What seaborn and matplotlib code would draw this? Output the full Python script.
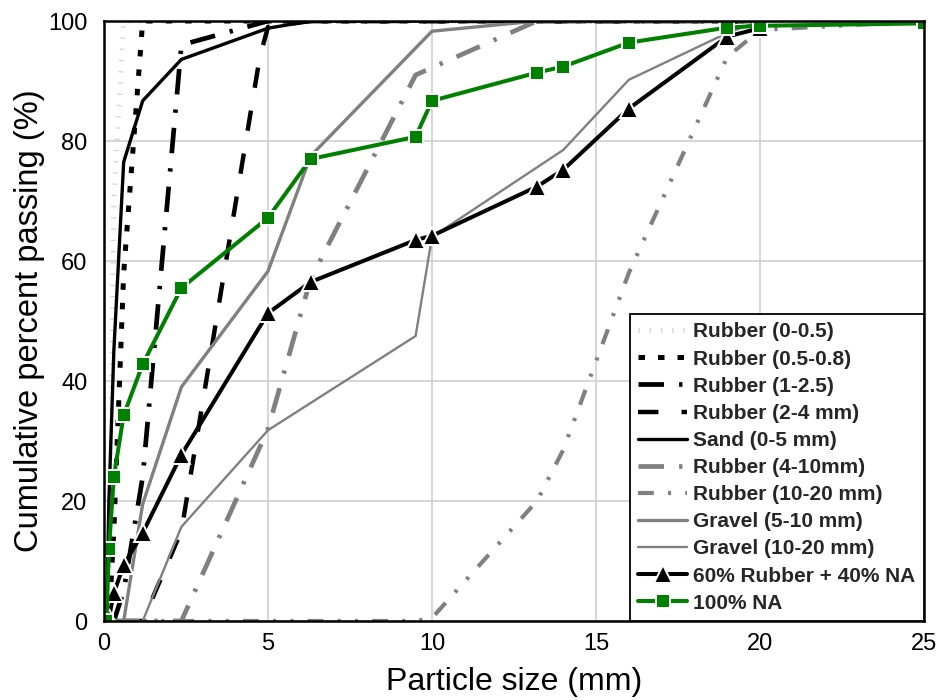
import matplotlib
matplotlib.use("Agg")
import matplotlib.pyplot as plt
import seaborn as sns
import pandas as pd

# ---------------- data ----------------
labels = ["Rubber (0-0.5)", "Rubber (0.5-0.8)", "Rubber (1-2.5)", "Rubber (2-4 mm)",
          "Sand (0-5 mm)", "Rubber (4-10mm)", "Rubber (10-20 mm)", "Gravel (5-10 mm)",
          "Gravel (10-20 mm)", "60% Rubber + 40% NA", "100% NA"]

r005_x = [0.075, 0.15, 0.3, 0.6, 1.18, 2.36, 5, 10, 20]
r005_y = [0, 0, 70, 100, 100, 100, 100, 100, 100]

r0508_x = [0.15, 0.3, 0.6, 1.18, 2.36, 5, 10, 20]
r0508_y = [0, 15, 58, 100, 100, 100, 100, 100]

r125_x = [0.3, 0.6, 1.18, 2.36, 5, 10, 20]
r125_y = [0, 5, 24, 96, 100, 100, 100]

r24_x = [0.6, 1.18, 2.36, 4.75, 5, 6.3, 10, 20]
r24_y = [0, 0, 15, 94, 99, 100, 100, 100]

sand_x = [0.075, 0.15, 0.3, 0.6, 1.18, 2.36, 5, 6.3, 10, 20]
sand_y = [0, 20, 45, 76.5, 86.7, 93.6, 98.8, 100, 100, 100]

r410_x = [0.3, 0.6, 1.18, 2.36, 5, 6.3, 9.5, 13.2, 20]
r410_y = [0, 0, 0, 0, 32, 57, 91, 100, 100]

r1020_x = [0.3, 0.6, 1.18, 2.36, 5, 6.3, 9.5, 10, 13.2, 14, 16, 19, 20, 25]
r1020_y = [0, 0, 0, 0, 0, 0, 0, 0.5, 20, 28.5, 58, 94, 98.5, 100]

g510_x = [0.3, 0.6, 1.18, 2.36, 5, 6.3, 10, 13.2, 20]
g510_y = [0, 0, 19.5, 39, 58.3, 77.5, 98.3, 100, 100]

g1020_x = [0.6, 1.18, 2.36, 5, 9.5, 10, 14, 16, 19, 20, 25]
g1020_y = [0, 0, 15.7, 31.8, 47.5, 64, 78.5, 90.2, 98, 100, 100]

mix_x = [0.15, 0.3, 0.6, 1.18, 2.36, 5, 6.3, 9.5, 10, 13.2, 14, 16, 19, 20]
mix_y = [0.5, 4.7, 9.3, 14.7, 27.7, 51.3, 56.5, 63.5, 64.2, 72.4, 75.2, 85.4, 97.4, 98.8]

na_x = [0.075, 0.15, 0.3, 0.6, 1.18, 2.36, 5, 6.3, 9.5, 10, 13.2, 14, 16, 19, 20, 25]
na_y = [0, 12, 24, 34.3, 42.8, 55.5, 67.2, 77, 80.7, 86.7, 91.4, 92.4, 96.4, 98.9, 99.2, 99.6]

x_ticks = [0, 5, 10, 15, 20, 25]
y_ticks = [0, 20, 40, 60, 80, 100]

series_x = [r005_x, r0508_x, r125_x, r24_x, sand_x, r410_x, r1020_x, g510_x, g1020_x, mix_x, na_x]
series_y = [r005_y, r0508_y, r125_y, r24_y, sand_y, r410_y, r1020_y, g510_y, g1020_y, mix_y, na_y]

# ---------------- styles ----------------
GRAY = "#808080"
styles = [
    dict(color="#d4d4d4", lw=3.6, dashes=(0.25, 2.0)),
    dict(color="black", lw=3.6, dashes=(1.3, 2.6)),
    dict(color="black", lw=3.4, dashes=(5.4, 3.2, 0.7, 3.2)),
    dict(color="black", lw=3.2, dashes=(4.6, 5.2)),
    dict(color="black", lw=2.4, dashes=None),
    dict(color=GRAY, lw=3.4, dashes=(5.4, 3.2, 0.7, 3.2)),
    dict(color=GRAY, lw=3.0, dashes=(3.8, 3.4, 0.75, 3.4, 0.75, 3.4)),
    dict(color=GRAY, lw=2.4, dashes=None),
    dict(color=GRAY, lw=1.7, dashes=None),
    dict(color="black", lw=2.9, dashes=None, marker="^", ms=13),
    dict(color="#008000", lw=2.9, dashes=None, marker="s", ms=9.5),
]

sns.set_theme(style="white")
plt.rcParams["font.family"] = ["Liberation Sans", "DejaVu Sans"]

fig = plt.figure(figsize=(9.44, 7), dpi=100)
ax = fig.add_axes([104 / 944, 79 / 700, 820 / 944, 600 / 700])

handles = []
for lab, xs, ys, st in zip(labels, series_x, series_y, styles):
    df = pd.DataFrame({"size": xs, "passing": ys})
    kw = {}
    if "marker" in st:
        kw = dict(marker=st["marker"], markersize=st["ms"], markeredgecolor="white",
                  markeredgewidth=1.4, markerfacecolor=st["color"])
    n_before = len(ax.lines)
    sns.lineplot(data=df, x="size", y="passing", ax=ax, color=st["color"],
                 linewidth=st["lw"], sort=False, estimator=None, label=lab,
                 legend=False, **kw)
    line = ax.lines[n_before]
    if st["dashes"] is not None:
        line.set_dashes(st["dashes"])
    line.set_dash_capstyle("butt")
    line.set_solid_joinstyle("miter")
    handles.append(line)

ax.set_xlim(0, 25)
ax.set_ylim(0, 100)
ax.set_xticks(x_ticks)
ax.set_yticks(y_ticks)
ax.grid(True, color="#d0d0d0", linewidth=1.2)
ax.set_axisbelow(True)
for sp in ax.spines.values():
    sp.set_visible(True)
    sp.set_color("black")
    sp.set_linewidth(1.8)
ax.tick_params(axis="both", length=0, labelsize=17, colors="black")
ax.tick_params(axis="x", pad=9)
ax.tick_params(axis="y", pad=12)
ax.set_xlabel("Particle size (mm)", fontsize=23, color="black", labelpad=8)
ax.set_ylabel("Cumulative percent passing (%)", fontsize=23.5, color="black", labelpad=2)

leg = ax.legend(handles=handles, labels=labels, loc="lower right",
                bbox_to_anchor=(1.0, 0.0), borderaxespad=0.0, frameon=True,
                fancybox=False, framealpha=1.0, edgecolor="black",
                prop=dict(family=["Liberation Sans", "DejaVu Sans"], weight="bold", size=15),
                handlelength=2.35, handletextpad=0.3, labelspacing=0.39,
                borderpad=0.4, numpoints=1)
leg.get_frame().set_linewidth(1.3)

fig.savefig("out.png", dpi=100)
